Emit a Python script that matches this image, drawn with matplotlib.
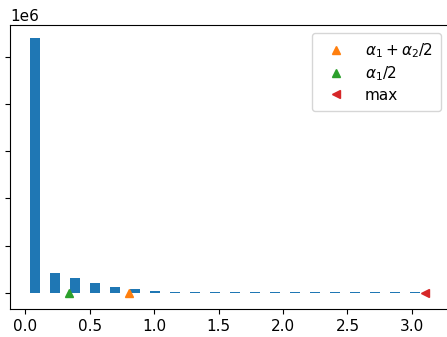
import numpy as np
import matplotlib
matplotlib.use("Agg")
import matplotlib.pyplot as plt

# histogram of the values (20 equal bins from 0 to the max)
x_max = 3.10
n_bins = 20
counts = [1079000, 84000, 63500, 41500, 25500, 16000, 7000,
          3600, 3400, 3300, 3200, 3100, 3000, 3000,
          2900, 2900, 2800, 2800, 2700, 2700]

# reference points on the x axis
alpha_sum = 0.802      # alpha_1 + alpha_2 / 2
alpha_half = 0.337     # alpha_1 / 2

edges = np.linspace(0, x_max, n_bins + 1)
centers = (edges[:-1] + edges[1:]) / 2

plt.rcParams["font.size"] = 11

fig = plt.figure(figsize=(4.47, 3.37), dpi=100)
ax = fig.add_axes([0.023, 0.082, 0.981, 0.844])

ax.hist(centers, bins=edges, weights=counts, rwidth=0.5, color="C0")
ax.plot(alpha_sum, 0, "^", color="C1", label=r"$\alpha_1 + \alpha_2/2$")
ax.plot(alpha_half, 0, "^", color="C2", label=r"$\alpha_1/2$")
ax.plot(x_max, 0, "<", color="C3", label="max")

ax.set_xlim(-0.116, 3.286)
ax.set_ylim(-70000, 1134000)
ax.legend(loc="upper right", handlelength=2.1, borderpad=0.55,
          labelspacing=0.3)

fig.savefig("out.png", dpi=100)
